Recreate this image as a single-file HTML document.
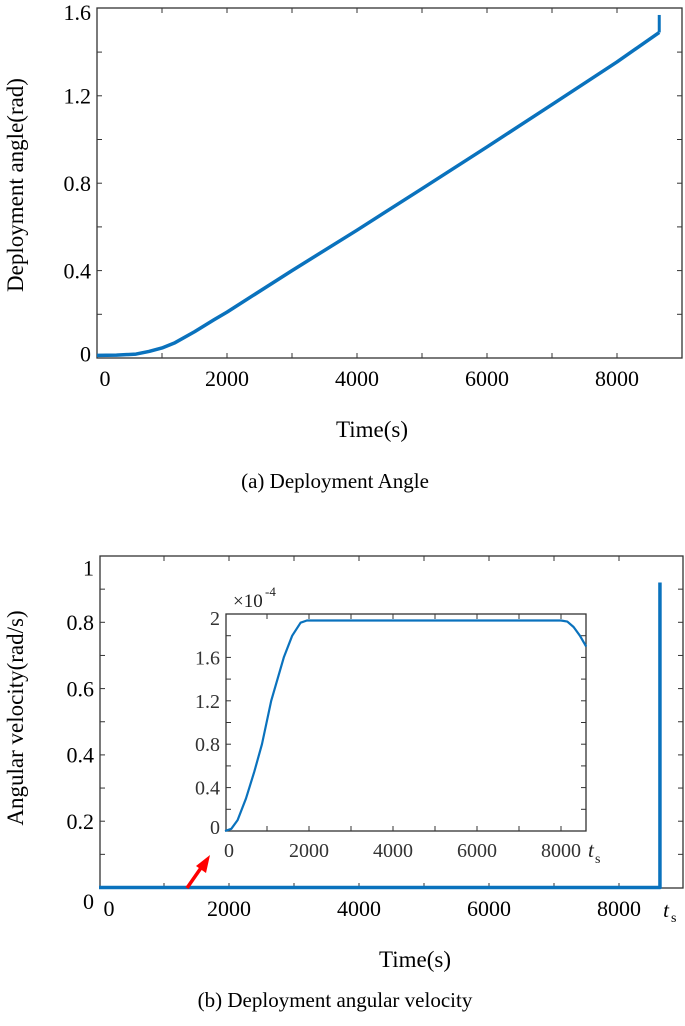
<!DOCTYPE html>
<html><head><meta charset="utf-8"><style>
body{margin:0;background:#fff;width:685px;height:1021px;overflow:hidden}
svg,svg text{font-family:"Liberation Serif","DejaVu Serif","Times New Roman",serif}
</style></head><body>
<svg id="s" width="685" height="1021" xmlns="http://www.w3.org/2000/svg"></svg>
<script>
// Chart (a) data
const angleT = [0,300,600,800,1000,1200,1500,1800,2000,3000,4000,5000,6000,7000,8000,8650];
const angleV = [0.012,0.013,0.018,0.03,0.046,0.07,0.12,0.175,0.21,0.4,0.585,0.775,0.966,1.16,1.355,1.49];
const angleSpikeT = [8650,8650];
const angleSpikeV = [1.49,1.57];
const xTicksA = [0,2000,4000,6000,8000];
const yTicksA = [0,0.4,0.8,1.2,1.6];
// Chart (b) data
const velT = [0,8630,8630];
const velV = [0,0,0.92];
const xTicksB = [0,2000,4000,6000,8000];
const yTicksB = [0,0.2,0.4,0.6,0.8,1];
// Inset data (x1e-4)
const insT = [0,150,300,500,700,880,1100,1400,1600,1800,1950,8000,8150,8300,8450,8600];
const insV = [0,0.02,0.1,0.3,0.55,0.8,1.2,1.6,1.8,1.92,1.94,1.94,1.93,1.88,1.8,1.7];
const xTicksI = [0,2000,4000,6000,8000];
const yTicksI = [0,0.4,0.8,1.2,1.6,2];

const s=document.getElementById('s');const NS='http://www.w3.org/2000/svg';
function el(t,a,txt){const e=document.createElementNS(NS,t);for(const k in a)e.setAttribute(k,a[k]);if(txt!=null)e.textContent=txt;s.appendChild(e);return e;}
function lin(d0,d1,r0,r1){return v=>r0+(v-d0)/(d1-d0)*(r1-r0);}

function axes(name,L,R,T,B,xs,ys,xt,yt,minorX,minorY,fs,col,xlabFn,ylabFn){
  const b=el('rect',{x:L,y:T,width:R-L,height:B-T,fill:'none',stroke:'#333','stroke-width':1.3});
  
  minorX.forEach(v=>{const x=xs(v);el('line',{x1:x,x2:x,y1:B,y2:B-5,stroke:'#333'});el('line',{x1:x,x2:x,y1:T,y2:T+5,stroke:'#333'});});
  minorY.forEach(v=>{const y=ys(v);el('line',{x1:L,x2:L+5,y1:y,y2:y,stroke:'#333'});el('line',{x1:R,x2:R-5,y1:y,y2:y,stroke:'#333'});});
  xt.forEach(v=>{const t=el('text',{x:xs(v)+xlabFn(v),y:B+fs+6,'font-size':fs,'text-anchor':'middle',fill:col},String(v));
    });
  yt.forEach(v=>{const t=el('text',{x:L-6,y:ys(v)+fs*0.35+ylabFn(v),'font-size':fs,'text-anchor':'end',fill:col},String(v));
    });
}
function line(xs,ys,X,Y,w,name){const p=el('polyline',{points:X.map((v,i)=>xs(v)+','+ys(Y[i])).join(' '),fill:'none',stroke:'#0a72bd','stroke-width':w,'stroke-linejoin':'round'});
  }

// (a)
{const xs=lin(0,1000,97,162),ys=lin(0,1.6,358,8.4);
 axes('chart-a',97,682,8,358,xs,ys,xTicksA,yTicksA,[1000,2000,3000,4000,5000,6000,7000,8000],[0.2,0.4,0.6,0.8,1.0,1.2,1.4],22,'#000',v=>v===0?8:0,v=>v===0?-4:(v===1.6?4:0));
 line(xs,ys,angleT,angleV,3.5,'deployment-angle-line');line(xs,ys,angleSpikeT,angleSpikeV,3,'deployment-angle-spike');
 let t=el('text',{x:372,y:437,'font-size':23,'text-anchor':'middle'},'Time(s)');
 t=el('text',{x:0,y:0,'font-size':23,'text-anchor':'middle',transform:'translate(23,185) rotate(-90)'},'Deployment angle(rad)');
 t=el('text',{x:335,y:488,'font-size':21,'text-anchor':'middle'},'(a) Deployment Angle');}
// (b)
{const xs=lin(0,1000,99,164),ys=lin(0,1,887.5,556);
 axes('chart-b',100,683,556,888,xs,ys,xTicksB,yTicksB,[1000,2000,3000,4000,5000,6000,7000,8000],[0.1,0.2,0.3,0.4,0.5,0.6,0.7,0.8,0.9],22,'#000',v=>v===0?10:0,v=>v===0?14:(v===1?12:0));
 line(xs,ys,velT,velV,3.5,'angular-velocity-line');
 let t=el('text',{x:666,y:917,'font-size':21,'font-style':'italic','text-anchor':'middle'},'t');
 el('text',{x:671,y:922,'font-size':14},'s');
 t=el('text',{x:415,y:967,'font-size':23,'text-anchor':'middle'},'Time(s)');
 t=el('text',{x:0,y:0,'font-size':23,'text-anchor':'middle',transform:'translate(23,718) rotate(-90)'},'Angular velocity(rad/s)');
 t=el('text',{x:335,y:1007,'font-size':21,'text-anchor':'middle'},'(b) Deployment angular velocity');
 const a=el('line',{x1:187,y1:888,x2:203,y2:865,stroke:'#f00','stroke-width':3.5});
 el('polygon',{points:'210,855 196,866 206,873',fill:'#f00'});}
// inset
{const xs=lin(0,1000,225,267),ys=lin(0,2,831,614);
 const r=el('rect',{x:226,y:614,width:360,height:217,fill:'#fff'});
 axes('inset',226,586,614,831,xs,ys,xTicksI,yTicksI,[1000,2000,3000,4000,5000,6000,7000,8000],[0.2,0.4,0.6,0.8,1,1.2,1.4,1.6,1.8],20,'#333',v=>v===0?4:0,v=>v===0?-4:(v===2?4:0));
 line(xs,ys,insT,insV,2.2,'inset-velocity-line');
 let t=el('text',{x:233,y:607,'font-size':19,fill:'#222'},'×10');
 el('text',{x:265,y:596,'font-size':13,fill:'#222'},'-4');
 t=el('text',{x:588,y:857,'font-size':21,'font-style':'italic','fill':'#222'},'t');
 el('text',{x:595,y:863,'font-size':14,fill:'#222'},'s');}
</script>
</body></html>
